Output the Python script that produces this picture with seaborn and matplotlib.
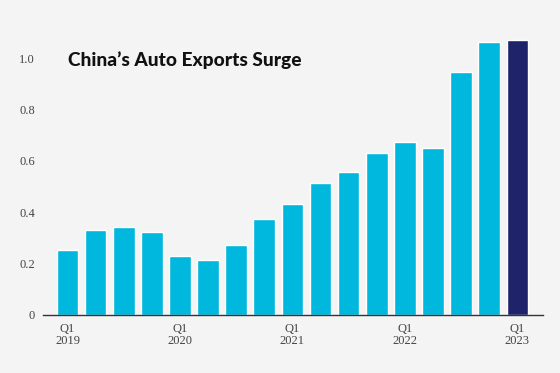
import pandas as pd
import numpy as np
import matplotlib.pyplot as plt
import seaborn as sns

# quarterly auto exports (million units), Q1 2019 - Q1 2023
quarters = ["Q1 2019", "Q2 2019", "Q3 2019", "Q4 2019",
            "Q1 2020", "Q2 2020", "Q3 2020", "Q4 2020",
            "Q1 2021", "Q2 2021", "Q3 2021", "Q4 2021",
            "Q1 2022", "Q2 2022", "Q3 2022", "Q4 2022",
            "Q1 2023"]
exports = [0.252, 0.331, 0.343, 0.323,
           0.228, 0.213, 0.270, 0.374,
           0.431, 0.512, 0.557, 0.630,
           0.673, 0.651, 0.945, 1.064,
           1.071]
highlight = ["past"] * 16 + ["latest"]
tick_labels = ["Q1\n2019", "", "", "",
               "Q1\n2020", "", "", "",
               "Q1\n2021", "", "", "",
               "Q1\n2022", "", "", "",
               "Q1\n2023"]
y_ticks = [0, 0.2, 0.4, 0.6, 0.8, 1.0]
y_labels = ["0", "0.2", "0.4", "0.6", "0.8", "1.0"]

df = pd.DataFrame({"quarter": quarters, "exports": exports, "kind": highlight})

bg = "#f4f4f4"
sns.set_style("white")
plt.rcParams["font.family"] = ["Liberation Serif", "DejaVu Serif"]

fig = plt.figure(figsize=(5.6, 3.73), dpi=100, facecolor=bg)
ax = fig.add_axes([0.0763, 0.1563, 0.8927, 0.7633], facecolor=bg)

sns.barplot(data=df, x="quarter", y="exports", hue="kind",
            palette={"past": "#00b7de", "latest": "#1f246a"},
            dodge=False, width=0.77, saturation=1, legend=False, ax=ax)

ax.set_xlim(-0.88, 16.9)
ax.set_ylim(0, 1.11)
ax.set_yticks(y_ticks)
ax.set_yticklabels(y_labels)
ax.set_xticks(range(len(quarters)))
ax.set_xticklabels(tick_labels, linespacing=1.05)
ax.set_xlabel("")
ax.set_ylabel("")

for s in ["top", "right", "left"]:
    ax.spines[s].set_visible(False)
ax.spines["bottom"].set_color("#333333")
ax.spines["bottom"].set_linewidth(1.0)

ax.tick_params(axis="y", direction="inout", length=8, width=0.8,
               color="#c4c4c4", pad=1.5, labelsize=9, labelcolor="#444444")
ax.tick_params(axis="x", direction="out", length=4, width=0.8,
               color="#c4c4c4", pad=2, labelsize=9, labelcolor="#444444")

fig.text(0.121, 0.84, "China\u2019s Auto Exports Surge", family=["Lato", "DejaVu Sans"],
         fontweight="black", fontsize=13.8, color="#111111", va="center", ha="left")

fig.savefig("out.png", dpi=100, facecolor=bg)
